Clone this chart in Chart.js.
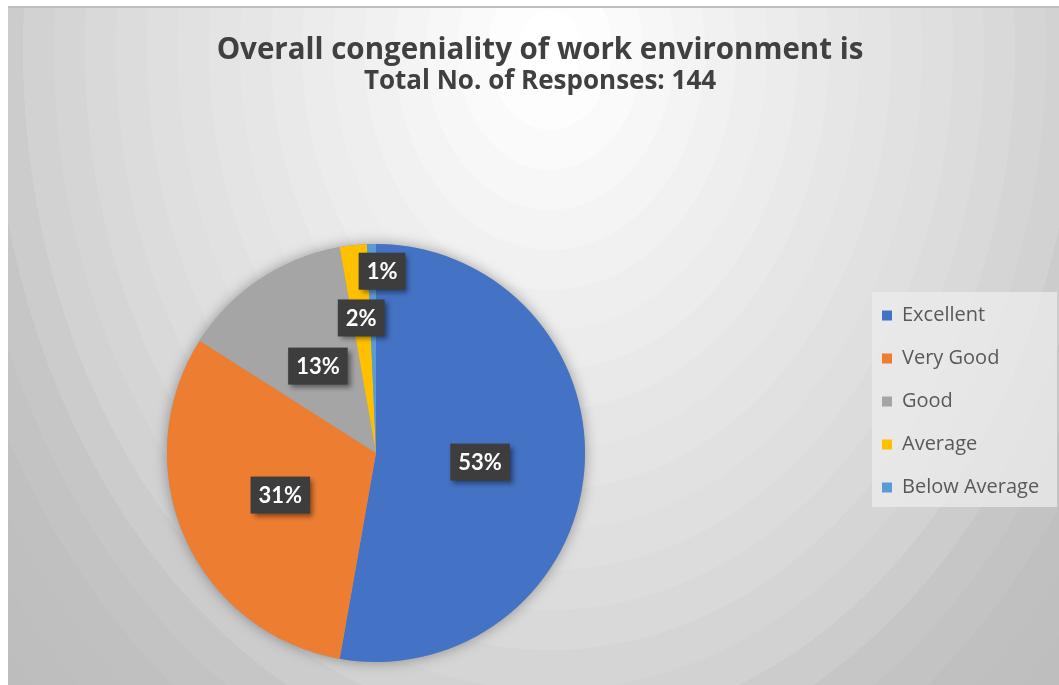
<!DOCTYPE html>
<html>
<head>
<meta charset="utf-8">
<title>Overall congeniality of work environment</title>
<script src="https://cdn.jsdelivr.net/npm/chart.js@4.4.1/dist/chart.umd.min.js"></script>
<style>
  html, body { margin: 0; padding: 0; background: #fff; }
  #wrap { width: 1059px; height: 685px; }
</style>
</head>
<body>
<div id="wrap"><canvas id="chart" width="1059" height="685"></canvas></div>
<script>
// Chart data
const categories = ['Excellent', 'Very Good', 'Good', 'Average', 'Below Average'];
const responses = [76, 45, 19, 3, 1];
const sliceColors = ['#4472C4', '#ED7D31', '#A5A5A5', '#FFC000', '#5B9BD5'];
const titleText = 'Overall congeniality of work environment is';
const totalResponses = responses.reduce((sum, v) => sum + v, 0);
const subtitleText = 'Total No. of Responses: ' + totalResponses;

// Excel places plot area and legend by hand, so we do the same
const frame = { left: 8, top: 6 };
const plotBox = { left: 167, top: 244, size: 418 };
const legendBox = { left: 872, top: 292, width: 185, height: 215 };

// grey level of the background for a normalised distance t
function bgGrey(t) {
    const ts = [0, 0.1, 0.25, 0.45, 0.65, 0.8, 0.9, 1.0, 1.3];
    const gs = [255, 250, 241, 230, 220, 210, 198, 192, 186];
    for (let i = 1; i < ts.length; i++) {
        if (t <= ts[i]) {
            const k = (t - ts[i - 1]) / (ts[i] - ts[i - 1]);
            return Math.round(gs[i - 1] + k * (gs[i] - gs[i - 1]));
        }
    }
    return gs[gs.length - 1];
}

// Background, frame and legend panel
const backdrop = {
    id: 'backdrop',
    beforeDraw(chart) {
        const { ctx, width, height } = chart;
        ctx.save();
        ctx.fillStyle = '#fff';
        ctx.fillRect(0, 0, width, height);

        ctx.beginPath();
        ctx.rect(frame.left, frame.top, width - frame.left, height - frame.top);
        ctx.clip();

        // elliptical gradient with visible steps, like the Office render
        const cx = 550, cy = 50, rx = 620, ry = 800;
        const s = ry / rx;
        const tMax = 1.3;
        const step = 0.05;
        ctx.translate(cx, cy);
        ctx.scale(1, s);
        const g = ctx.createRadialGradient(0, 0, 0, 0, 0, rx * tMax);
        for (let t = 0; t < tMax; t += step) {
            const grey = bgGrey(t);
            const c = `rgb(${grey},${grey},${grey})`;
            g.addColorStop(Math.min(t / tMax, 1), c);
            g.addColorStop(Math.min((t + step) / tMax - 0.0001, 1), c);
        }
        ctx.fillStyle = g;
        ctx.fillRect(-cx, -cy / s, width, height / s);
        ctx.restore();

        // top edge of chart frame
        ctx.save();
        ctx.fillStyle = '#bdbdbd';
        ctx.fillRect(frame.left, frame.top, width - frame.left, 2);

        // legend panel
        ctx.fillStyle = 'rgba(236,236,236,0.75)';
        ctx.fillRect(legendBox.left, legendBox.top, legendBox.width, legendBox.height);
        ctx.restore();
    }
};

// Put plot area and legend where the original has them
const placeBoxes = {
    id: 'placeBoxes',
    afterLayout(chart) {
        const area = chart.chartArea;
        area.left = plotBox.left;
        area.top = plotBox.top;
        area.right = plotBox.left + plotBox.size;
        area.bottom = plotBox.top + plotBox.size;
        area.width = plotBox.size;
        area.height = plotBox.size;

        // legend box gets some slack above and below so nothing wraps;
        // items stay centred on the panel
        const slack = 30;
        const lg = chart.legend;
        lg.left = legendBox.left - 13;
        lg.top = legendBox.top - slack + 2;
        lg.width = legendBox.width + 13;
        lg.height = legendBox.height + slack * 2;
        lg.right = lg.left + lg.width;
        lg.bottom = lg.top + lg.height;
    }
};

// Soft shadow under the whole pie
const pieShadow = {
    id: 'pieShadow',
    beforeDatasetsDraw(chart) {
        const arc = chart.getDatasetMeta(0).data[0];
        if (!arc) return;
        const { x, y, outerRadius } = arc.getProps(['x', 'y', 'outerRadius'], true);
        const ctx = chart.ctx;
        ctx.save();
        ctx.shadowColor = 'rgba(0,0,0,0.35)';
        ctx.shadowBlur = 14;
        ctx.fillStyle = '#999';
        ctx.beginPath();
        ctx.arc(x, y, outerRadius, 0, Math.PI * 2);
        ctx.fill();
        ctx.restore();
    }
};

// Percent labels in dark boxes
const pctLabels = {
    id: 'pctLabels',
    afterDatasetsDraw(chart, args, opts) {
        const ctx = chart.ctx;
        const meta = chart.getDatasetMeta(0);
        ctx.save();
        ctx.font = 'bold 22px Lato';
        ctx.textAlign = 'center';
        ctx.textBaseline = 'middle';
        meta.data.forEach((arc, i) => {
            const { x, y, startAngle, endAngle, outerRadius } =
                arc.getProps(['x', 'y', 'startAngle', 'endAngle', 'outerRadius'], true);
            const mid = (startAngle + endAngle) / 2;
            const r = outerRadius * opts.radius[i];
            const px = x + Math.cos(mid) * r + opts.shiftX[i];
            const py = y + Math.sin(mid) * r;
            const text = Math.round(responses[i] / totalResponses * 100) + '%';
            const w = ctx.measureText(text).width + 16;
            const h = 37;

            ctx.shadowColor = 'rgba(0,0,0,0.45)';
            ctx.shadowBlur = 5;
            ctx.shadowOffsetX = 3;
            ctx.shadowOffsetY = 3;
            ctx.fillStyle = '#3d3d3d';
            ctx.fillRect(px - w / 2, py - h / 2, w, h);

            ctx.shadowColor = 'transparent';
            ctx.fillStyle = '#ffffff';
            ctx.fillText(text, px, py + 1);
        });
        ctx.restore();
    }
};

const ctx = document.getElementById('chart');

new Chart(ctx, {
    type: 'pie',
    data: {
        labels: categories,
        datasets: [{
            data: responses,
            backgroundColor: sliceColors,
            borderWidth: 0
        }]
    },
    options: {
        responsive: false,
        animation: false,
        layout: {
            padding: { top: 6, left: 21 }
        },
        plugins: {
            title: {
                display: true,
                text: titleText,
                color: '#404040',
                font: { family: '"Open Sans"', size: 29.5, weight: 'bold', lineHeight: 1 },
                padding: { top: 30, bottom: 0 }
            },
            subtitle: {
                display: true,
                text: subtitleText,
                color: '#404040',
                font: { family: '"Open Sans"', size: 26, weight: 'bold', lineHeight: 1 },
                padding: { top: 3, bottom: 0 }
            },
            legend: {
                position: 'right',
                labels: {
                    boxWidth: 10,
                    boxHeight: 10,
                    padding: 23,
                    color: '#595959',
                    font: { family: '"Open Sans"', size: 20 }
                }
            },
            tooltip: { enabled: false },
            pctLabels: {
                radius: [0.5, 0.5, 0.5, 0.65, 0.87],
                shiftX: [0, 0, 0, 0, 10]
            }
        }
    },
    plugins: [backdrop, placeBoxes, pieShadow, pctLabels]
});
</script>
</body>
</html>
